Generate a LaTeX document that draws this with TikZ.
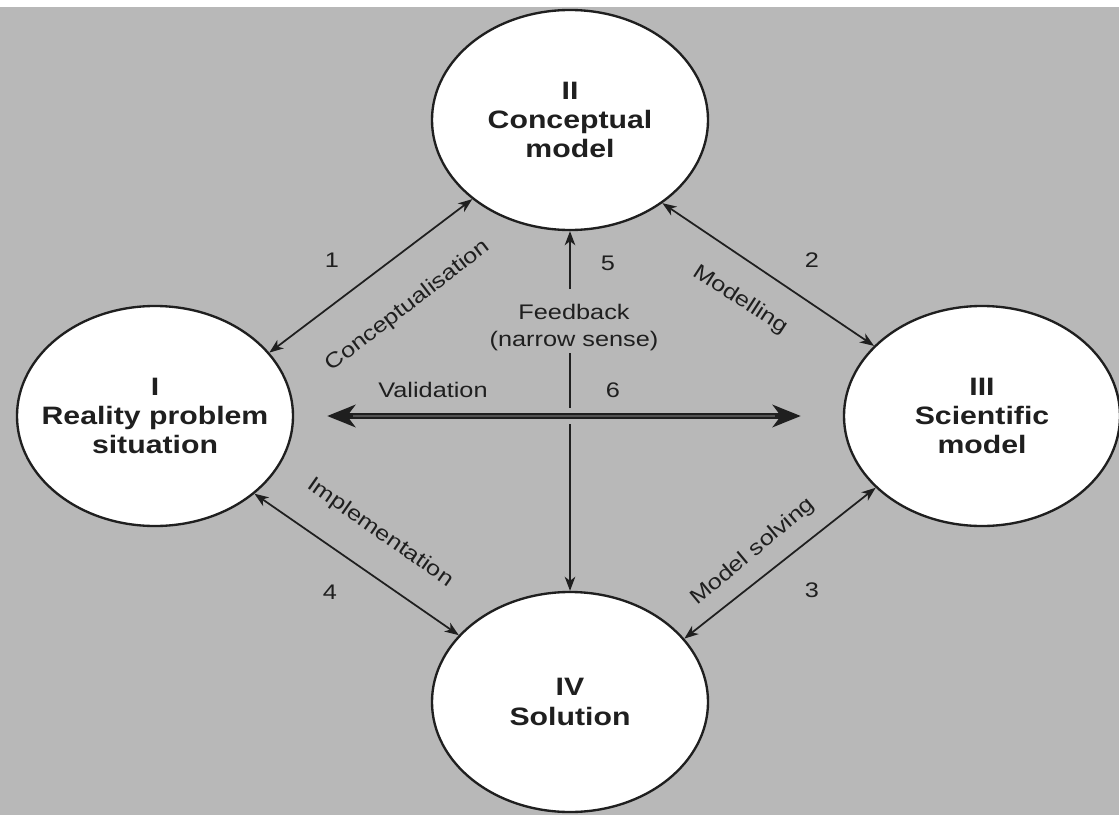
\documentclass[tikz,border=0pt]{standalone}
\usepackage{fontspec}
\setmainfont{Liberation Sans}[FakeStretch=1.2]
\usetikzlibrary{shapes.geometric,arrows.meta}
\definecolor{scan}{gray}{0.72}
\definecolor{ink}{gray}{0.12}

\begin{document}
\begin{tikzpicture}[x=0.03cm,y=-0.03cm,>={Stealth[length=12pt,width=9pt,inset=3.5pt]}]
    \tikzstyle{phase}=[ellipse,draw=ink,fill=white,line width=2pt,minimum width=8.28cm,minimum height=6.6cm,inner sep=0pt]
    \tikzstyle{title}=[align=center,text=ink,font=\bfseries\fontsize{21.5}{25}\selectfont]
    \tikzstyle{lbl}=[text=ink,inner sep=0pt,align=center,font=\fontsize{18}{23}\selectfont]
    \tikzstyle{link}=[<->,draw=ink,line width=1.5pt]
    \tikzstyle{valid}=[{Stealth[length=24pt,width=19pt,inset=7pt]}-{Stealth[length=24pt,width=19pt,inset=7pt]},draw=ink,line width=5pt]

    \useasboundingbox (0,0) rectangle (1119,815);
    \fill[white] (0,0) rectangle (1119,815);
    \fill[scan] (0,7) rectangle (1119,815);

    \foreach \name/\x/\y/\txt in {I/155/416/{I\\Reality problem\\situation}, II/570/120/{II\\Conceptual\\model},
                                  III/982/416/{III\\Scientific\\model}, IV/570/702/{IV\\Solution}}
        \node[phase,label={[title]center:\txt}] (P-\name) at (\x,\y) {};

    % the four steps round the cycle
    \foreach \from/\a/\to/\b in {I/29/II/219, II/318/III/147, III/214/IV/29, I/322/IV/149}
        \draw[link] (P-\from.\a) -- (P-\to.\b);

    \foreach \txt/\x/\y/\ang in {Conceptualisation/408/306/37.5, Modelling/740/300/-33,
                                 Model solving/753/552/40, Implementation/380/533/-35}
        \node[lbl,rotate=\ang] at (\x,\y) {\txt};

    \foreach \num/\x/\y in {1/332/260, 2/812/260, 3/812/590, 4/330/592, 5/608/263, 6/613/390}
        \node[lbl] (N-\num) at (\x,\y) {\num};

    % feedback, in and out of the centre
    \node[lbl] (fb) at (574,328) {Feedback\\(narrow sense)};
    \coordinate (fb-up) at (570,289);
    \coordinate (fb-down) at (570,353);
    \draw[->,draw=ink,line width=1.5pt] (fb-up) -- (P-II.south);
    \draw[->,draw=ink,line width=1.5pt] (fb-down) -- (P-IV.north);

    \node[lbl] (val) at (433,390) {Validation};
    \path (P-I.east) ++(33,0) coordinate (v-l) (P-III.west) ++(-42,0) coordinate (v-r);
    \draw[valid,preaction={draw=scan,line width=13pt,-,shorten <=20pt,shorten >=20pt}] (v-l) -- (v-r);
    \draw[draw=gray!55!ink,line width=1pt,shorten <=22pt,shorten >=22pt] (v-l) -- (v-r);
\end{tikzpicture}
\end{document}
